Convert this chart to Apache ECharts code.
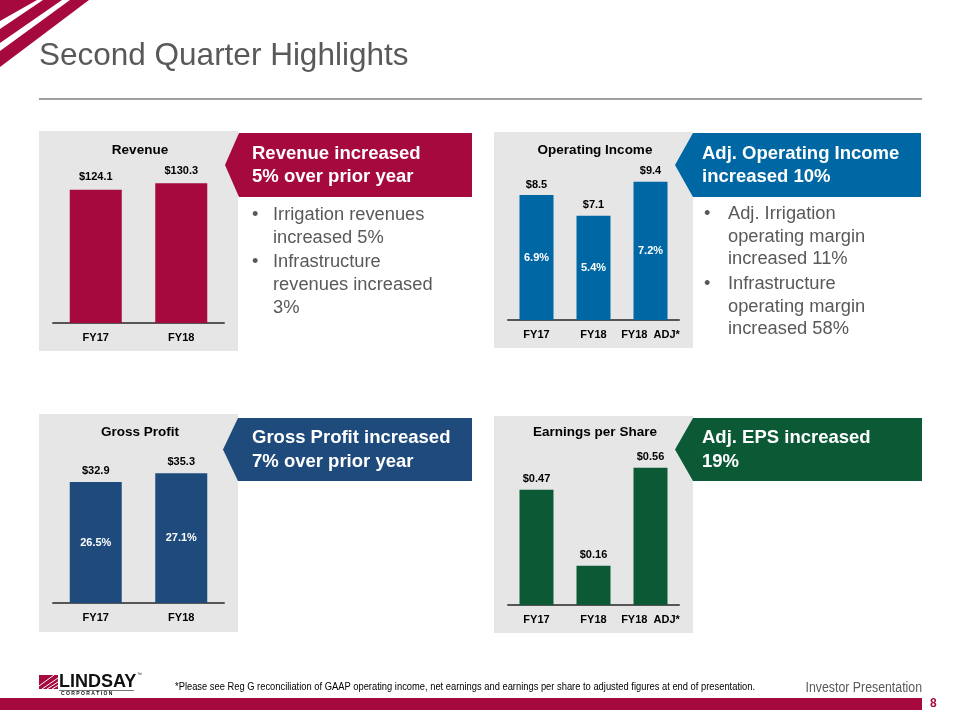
<!DOCTYPE html>
<html>
<head>
<meta charset="utf-8">
<script src="https://cdn.jsdelivr.net/npm/echarts@6/dist/echarts.min.js"></script>
<style>html,body{margin:0;padding:0;background:#fff}#c{width:960px;height:720px}</style>
</head>
<body>
<div id="c"></div>
<script>
// ---- data ----
const revCats = ['FY17', 'FY18'];
const revValues = [124.1, 130.3];
const opCats = ['FY17', 'FY18', 'FY18  ADJ*'];
const opValues = [8.5, 7.1, 9.4];
const opMargins = ['6.9%', '5.4%', '7.2%'];
const gpCats = ['FY17', 'FY18'];
const gpValues = [32.9, 35.3];
const gpMargins = ['26.5%', '27.1%'];
const epsCats = ['FY17', 'FY18', 'FY18  ADJ*'];
const epsValues = [0.47, 0.16, 0.56];

const RED = '#A6093D', BLUE = '#0067A5', NAVY = '#1F4A7C', GREEN = '#0B5A35';
const GRAYBG = '#E6E6E6', TXT = '#595959';
const FONT = 'Arial, "Liberation Sans", sans-serif';

const chart = echarts.init(document.getElementById('c'));

const grids = [
  {left: 53, top: 162, width: 171, height: 161},
  {left: 508, top: 173, width: 171, height: 147},
  {left: 53, top: 456, width: 171, height: 147},
  {left: 508, top: 458, width: 171, height: 147}
];
const cats = [revCats, opCats, gpCats, epsCats];
const maxes = [150, 10, 40, 0.6];
const xAxis = cats.map((c, i) => ({
  type: 'category', gridIndex: i, data: c,
  axisLine: {lineStyle: {color: '#555', width: 2}},
  axisTick: {show: false},
  axisLabel: {interval: 0, margin: 9, color: '#000', fontWeight: 'bold', fontSize: 11, fontFamily: FONT}
}));
const yAxis = maxes.map((m, i) => ({
  type: 'value', gridIndex: i, min: 0, max: m, show: false, splitLine: {show: false}
}));

function valSeries(i, data, color, width, dec, dist) {
  return {
    type: 'bar', xAxisIndex: i, yAxisIndex: i, data: data, barWidth: width,
    itemStyle: {color: color}, barGap: '-100%',
    label: {show: true, position: 'top', distance: dist, color: '#000', fontWeight: 'bold',
      fontSize: 11, fontFamily: FONT, formatter: p => '$' + p.value.toFixed(dec)}
  };
}
function pctSeries(i, data, labels, width) {
  return {
    type: 'bar', xAxisIndex: i, yAxisIndex: i, data: data, barWidth: width, barGap: '-100%',
    itemStyle: {color: 'rgba(0,0,0,0)'}, silent: true,
    label: {show: true, position: 'inside', color: '#fff', fontWeight: 'bold',
      fontSize: 11, fontFamily: FONT, formatter: p => labels[p.dataIndex]}
  };
}

const series = [
  valSeries(0, revValues, RED, 52, 1, 7),
  valSeries(1, opValues, BLUE, 34, 1, 5),
  pctSeries(1, opValues, opMargins, 34),
  valSeries(2, gpValues, NAVY, 52, 1, 6),
  pctSeries(2, gpValues, gpMargins, 52),
  valSeries(3, epsValues, GREEN, 34, 2, 5)
];

function txt(x, y, text, font, fill, align, z) {
  return {type: 'text', z: z || 5, style: {x: x, y: y, text: text, font: font, fill: fill,
    textAlign: align || 'left', textVerticalAlign: 'middle'}};
}
function stxt(x, y, text, font, fill, align, sx) {
  return {type: 'text', z: 5, x: x, y: y, scaleX: sx, style: {x: 0, y: 0, text: text, font: font, fill: fill,
    textAlign: align || 'left', textVerticalAlign: 'middle'}};
}
function banner(tipX, leftX, rightX, top, bottom, color) {
  const mid = (top + bottom) / 2;
  return {type: 'polygon', z: 1, shape: {points: [[tipX, mid], [leftX, top], [rightX, top], [rightX, bottom], [leftX, bottom]]},
    style: {fill: color}};
}
function panel(x, y, w, h) {
  return {type: 'rect', z: -1, shape: {x: x, y: y, width: w, height: h}, style: {fill: GRAYBG}};
}

const BF = 'bold 18.5px ' + FONT;
const BUL = '18.3px ' + FONT;
const CT = 'bold 13.5px ' + FONT;
const graphic = [
  // corner stripes
  {type: 'polygon', shape: {points: [[0, 0], [37, 0], [0, 21]]}, style: {fill: RED}},
  {type: 'polygon', shape: {points: [[43, 0], [62, 0], [0, 43], [0, 29]]}, style: {fill: RED}},
  {type: 'polygon', shape: {points: [[70, 0], [89, 0], [0, 67], [0, 51]]}, style: {fill: RED}},
  // title
  txt(39, 56, 'Second Quarter Highlights', '31.5px ' + FONT, TXT),
  {type: 'line', shape: {x1: 39, y1: 99, x2: 922, y2: 99}, style: {stroke: '#A0A0A0', lineWidth: 2}},
  // panels
  panel(39, 131, 199, 220), panel(494, 132, 199, 216), panel(39, 414, 199, 218), panel(494, 416, 199, 217),
  txt(140, 150, 'Revenue', CT, '#000', 'center'),
  txt(595, 150, 'Operating Income', CT, '#000', 'center'),
  txt(140, 432, 'Gross Profit', CT, '#000', 'center'),
  txt(595, 432, 'Earnings per Share', CT, '#000', 'center'),
  // banners
  banner(225, 239, 472, 133, 197, RED),
  banner(675, 693, 921, 133, 197, BLUE),
  banner(223, 238, 472, 418, 481, NAVY),
  banner(675, 693, 922, 418, 481, GREEN),
  txt(252, 154, 'Revenue increased', BF, '#fff'),
  txt(252, 177, '5% over prior year', BF, '#fff'),
  txt(702, 154, 'Adj. Operating Income', BF, '#fff'),
  txt(702, 177, 'increased 10%', BF, '#fff'),
  txt(252, 438, 'Gross Profit increased', BF, '#fff'),
  txt(252, 462, '7% over prior year', BF, '#fff'),
  txt(702, 438, 'Adj. EPS increased', BF, '#fff'),
  txt(702, 462, '19%', BF, '#fff'),
  // bullets panel 1
  txt(252, 215, '•', BUL, TXT), txt(273, 215, 'Irrigation revenues', BUL, TXT),
  txt(273, 238, 'increased 5%', BUL, TXT),
  txt(252, 262, '•', BUL, TXT), txt(273, 262, 'Infrastructure', BUL, TXT),
  txt(273, 285, 'revenues increased', BUL, TXT),
  txt(273, 308, '3%', BUL, TXT),
  // bullets panel 2
  txt(704, 214, '•', BUL, TXT), txt(728, 214, 'Adj. Irrigation', BUL, TXT),
  txt(728, 237, 'operating margin', BUL, TXT),
  txt(728, 259, 'increased 11%', BUL, TXT),
  txt(704, 284, '•', BUL, TXT), txt(728, 284, 'Infrastructure', BUL, TXT),
  txt(728, 307, 'operating margin', BUL, TXT),
  txt(728, 329, 'increased 58%', BUL, TXT),
  // footer
  {type: 'rect', shape: {x: 0, y: 698, width: 922, height: 12}, style: {fill: RED}},
  txt(930, 704, '8', 'bold 12px ' + FONT, RED),
  stxt(922, 688, 'Investor Presentation', '14px ' + FONT, TXT, 'right', 0.88),
  stxt(175, 687, '*Please see Reg G reconciliation of GAAP operating income, net earnings and earnings per share to adjusted figures at end of presentation.',
    '11px ' + FONT, '#000', 'left', 0.85),
  // logo
  {type: 'rect', shape: {x: 39, y: 675, width: 19, height: 14}, style: {fill: RED}},
  {type: 'line', shape: {x1: 42, y1: 689, x2: 58, y2: 678}, style: {stroke: '#fff', lineWidth: 1}},
  {type: 'line', shape: {x1: 47, y1: 689, x2: 58, y2: 682}, style: {stroke: '#fff', lineWidth: 1}},
  {type: 'line', shape: {x1: 52, y1: 689, x2: 58, y2: 685.5}, style: {stroke: '#fff', lineWidth: 1}},
  {type: 'line', shape: {x1: 39, y1: 686, x2: 54, y2: 675}, style: {stroke: '#fff', lineWidth: 1}},
  stxt(59, 682, 'LINDSAY', 'bold 18px ' + FONT, '#111', 'left', 1.0),
  txt(137, 675, '™', '5px ' + FONT, '#111'),
  {type: 'line', shape: {x1: 59, y1: 690.5, x2: 134, y2: 690.5}, style: {stroke: '#777', lineWidth: 1}},
  txt(61, 694, 'C O R P O R A T I O N', 'bold 5px ' + FONT, '#111')
];

chart.setOption({
  animation: false,
  backgroundColor: '#fff',
  grid: grids,
  xAxis: xAxis,
  yAxis: yAxis,
  series: series,
  graphic: graphic
});
</script>
</body>
</html>
